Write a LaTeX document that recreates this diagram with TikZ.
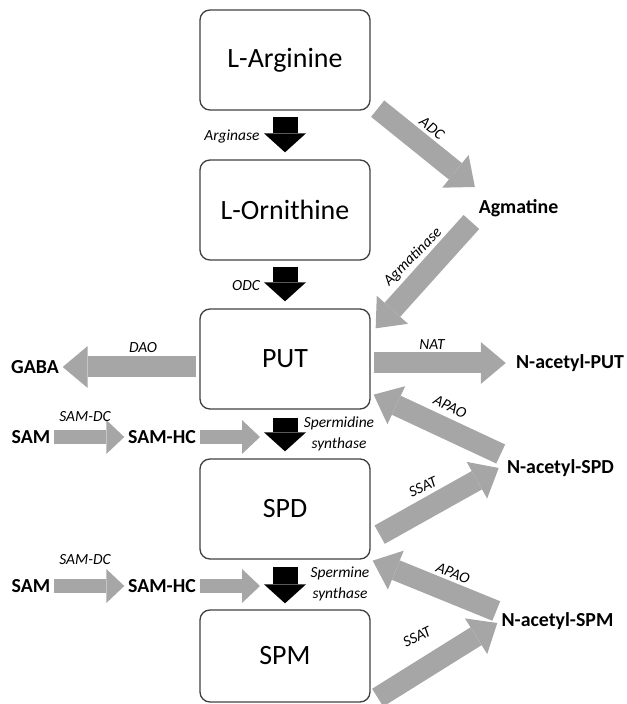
\documentclass[tikz,border=0pt]{standalone}
\usepackage{fontspec}
\setmainfont{Carlito}
\usepackage{xcolor}
\usepackage{tikz}
\usetikzlibrary{arrows.meta}

\definecolor{flowgray}{RGB}{166,166,166}
\definecolor{boxline}{RGB}{64,64,64}

\begin{document}
\begin{tikzpicture}[
    met/.style={draw=boxline, line width=0.75pt, rounded corners=0.2cm, minimum width=3.4cm, minimum height=2cm, font=\fontsize{15.9}{19}\selectfont},
    prod/.style={inner sep=2pt, font=\fontsize{11.3}{13.5}\selectfont\bfseries},
    enz/.style={inner sep=1pt, font=\fontsize{8.8}{11.9}\selectfont\itshape},
    mainflow/.style={black, line width=0.5cm, -{Triangle[length=0.38cm, width=0.84cm, line width=0pt]}},
    sideflow/.style={flowgray, line width=0.42cm, -{Triangle[length=0.5cm, width=0.84cm, line width=0pt]}},
    samflow/.style={flowgray, line width=0.28cm, -{Triangle[length=0.36cm, width=0.68cm, line width=0pt]}},
]
\useasboundingbox (0, 0) rectangle (12.54, 14.08);

% Metabolite boxes
\node[met] (arg) at (5.7, 12.88) {L-Arginine};
\node[met] (orn) at (5.7, 9.88) {L-Ornithine};
\node[met] (put) at (5.7, 6.9) {PUT};
\node[met] (spd) at (5.7, 3.9) {SPD};
\node[met, minimum height=1.84cm] (spm) at (5.7, 0.96) {SPM};

% Side products
\node[prod] (agm) at (10.37, 9.92) {Agmatine};
\node[prod] (gaba) at (0.7, 6.74) {GABA};
\node[prod] (nput) at (11.4, 6.82) {N-acetyl-PUT};
\node[prod] (nspd) at (11.21, 4.72) {N-acetyl-SPD};
\node[prod] (nspm) at (11.15, 1.66) {N-acetyl-SPM};
\node[prod] (sam1) at (0.62, 5.34) {SAM};
\node[prod] (hc1) at (3.24, 5.34) {SAM-HC};
\node[prod] (sam2) at (0.62, 2.36) {SAM};
\node[prod] (hc2) at (3.24, 2.36) {SAM-HC};

% Main pathway
\draw[mainflow, shorten <=0.12cm, shorten >=0.14cm] (arg) -- (orn);
\draw[mainflow, shorten <=0.12cm, shorten >=0.14cm] (orn) -- (put);
\draw[mainflow, shorten <=0.16cm, shorten >=0.14cm] (put) -- coordinate (syn1) (spd);
\draw[mainflow, shorten <=0.14cm, shorten >=0.12cm] (spd) -- coordinate (syn2) (spm);

% Side reactions
\draw[sideflow] ([shift={(0.14,0.04)}]arg.south east) -- ([yshift=0.42cm]agm.west);
\draw[sideflow] ([shift={(-0.07,-0.28)}]agm.west) -- ([shift={(0.1,-0.4)}]put.north east);
\draw[sideflow, shorten <=0.06cm] (put.west |- gaba) -- (gaba);
\draw[sideflow, shorten <=0.06cm, shorten >=0.13cm] (put.east |- nput) -- (nput);
\draw[sideflow] ([shift={(-0.05,0.28)}]nspd.west) -- ([shift={(0.06,0.3)}]put.south east);
\draw[sideflow] ([shift={(0.18,0.5)}]spd.south east) -- ([xshift=-0.09cm]nspd.west);
\draw[sideflow] ([shift={(-0.03,0.2)}]nspm.west) -- ([shift={(0.04,-0.02)}]spd.south east);
\draw[sideflow] ([shift={(0.14,0.1)}]spm.south east) -- ([shift={(-0.01,-0.04)}]nspm.west);

% SAM branch
\draw[samflow] (sam1) -- (hc1);
\draw[samflow, shorten >=0.5cm] (hc1) -- (hc1 -| syn1);
\draw[samflow] (sam2) -- (hc2);
\draw[samflow, shorten >=0.5cm] (hc2) -- (hc2 -| syn2);

% Enzymes
\node[enz] (argase) at (4.64, 11.34) {Arginase};
\node[enz] (odc) at (4.92, 8.36) {ODC};
\node[enz, rotate=-38] (adc) at (8.64, 11.52) {ADC};
\node[enz, rotate=45] (agmase) at (8.26, 8.94) {Agmatinase};
\node[enz] (dao) at (2.86, 7.12) {DAO};
\node[enz] (nat) at (8.64, 7.18) {NAT};
\node[enz] (samdc1) at (1.7, 5.74) {SAM-DC};
\node[enz] (samdc2) at (1.7, 2.88) {SAM-DC};
\node[enz, align=center] (spdsyn) at (6.78, 5.40) {Spermidine\\synthase};
\node[enz, align=center] (spmsyn) at (6.8, 2.40) {Spermine\\synthase};
\node[enz, rotate=-26] (apao1) at (9.0, 5.94) {APAO};
\node[enz, rotate=25] (ssat1) at (8.46, 4.34) {SSAT};
\node[enz, rotate=-22] (apao2) at (9.06, 2.62) {APAO};
\node[enz, rotate=26] (ssat2) at (8.34, 1.34) {SSAT};
\end{tikzpicture}
\end{document}
